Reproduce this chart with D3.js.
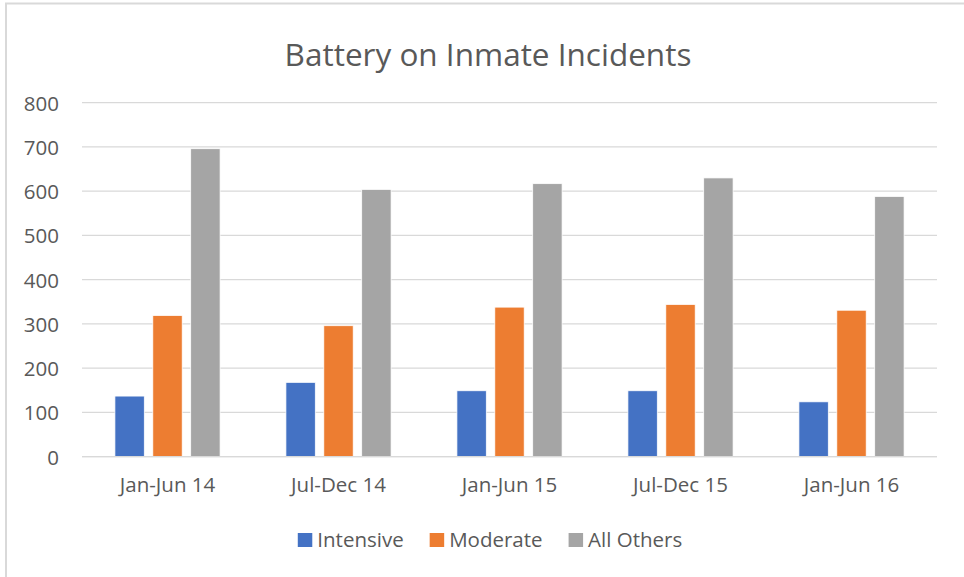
<!DOCTYPE html>
<html>
<head>
<meta charset="utf-8">
<script src="https://cdn.jsdelivr.net/npm/d3@7"></script>
<style>
  html, body { margin: 0; padding: 0; background: #fff; }
  svg { display: block; }
  text { font-family: "Open Sans", Lato, sans-serif; fill: #595959; }
</style>
</head>
<body>
<svg id="chart" width="964" height="577"></svg>
<script>
// Half-year periods on the x axis
const categories = ["Jan-Jun 14", "Jul-Dec 14", "Jan-Jun 15", "Jul-Dec 15", "Jan-Jun 16"];
// Series names and their counts per period
const seriesNames = ["Intensive", "Moderate", "All Others"];
const intensive = [137, 168, 149, 149, 124];
const moderate  = [319, 296, 338, 344, 331];
const allOthers = [696, 604, 617, 630, 588];
const seriesColors = ["#4472C4", "#ED7D31", "#A5A5A5"];
const yTicks = [0, 100, 200, 300, 400, 500, 600, 700, 800];
const chartTitle = "Battery on Inmate Incidents";

const seriesValues = [intensive, moderate, allOthers];

const W = 964, H = 577;
const margin = { left: 82, right: 27, top: 102.7, bottom: 120.3 };
const FONT = "'Open Sans', Lato, sans-serif";
const LABEL_SIZE = "20.5px";
const svg = d3.select("#chart");

// outer chart frame
svg.append("rect")
  .attr("x", 6).attr("y", 3.5)
  .attr("width", W + 10).attr("height", H + 10)
  .attr("fill", "#fff").attr("stroke", "#D9D9D9").attr("stroke-width", 2);

const x0 = d3.scaleBand()
  .domain(categories)
  .range([margin.left, W - margin.right])
  .paddingInner(0.385).paddingOuter(0.1925);

const x1 = d3.scaleBand()
  .domain(seriesNames)
  .range([0, x0.bandwidth()])
  .paddingInner(0.225);

const y = d3.scaleLinear()
  .domain([0, 800])
  .range([H - margin.bottom, margin.top]);

// gridlines
svg.append("g")
  .selectAll("line")
  .data(yTicks)
  .join("line")
  .attr("x1", margin.left).attr("x2", W - margin.right)
  .attr("y1", d => y(d)).attr("y2", d => y(d))
  .attr("stroke", "#D9D9D9").attr("stroke-width", 1.3);

// y axis labels
const yAxis = d3.axisLeft(y).tickValues(yTicks).tickSize(0).tickPadding(23);
const gy = svg.append("g").attr("transform", `translate(${margin.left},0)`).call(yAxis);
gy.select(".domain").remove();
gy.selectAll("text")
  .style("font-family", FONT)
  .style("font-size", LABEL_SIZE).attr("fill", "#595959").attr("dy", "0.36em");

// bars
const groups = svg.append("g")
  .selectAll("g")
  .data(categories)
  .join("g")
  .attr("transform", d => `translate(${x0(d)},0)`);

groups.selectAll("rect")
  .data((c, i) => seriesNames.map((s, k) => ({ s, k, v: seriesValues[k][i] })))
  .join("rect")
  .attr("x", d => x1(d.s))
  .attr("width", x1.bandwidth())
  .attr("y", d => y(d.v))
  .attr("height", d => y(0) - y(d.v))
  .attr("fill", d => seriesColors[d.k])
  .attr("stroke", "#fff").attr("stroke-width", 0.75);

// baseline
svg.append("line")
  .attr("x1", margin.left).attr("x2", W - margin.right)
  .attr("y1", y(0)).attr("y2", y(0))
  .attr("stroke", "#D9D9D9").attr("stroke-width", 1.3);

// x axis labels
const xAxis = d3.axisBottom(x0).tickSize(0).tickPadding(21);
const gx = svg.append("g").attr("transform", `translate(0,${y(0)})`).call(xAxis);
gx.select(".domain").remove();
gx.selectAll("text")
  .style("font-family", FONT)
  .style("font-size", LABEL_SIZE).attr("fill", "#595959");

// title
svg.append("text")
  .attr("x", 488)
  .attr("y", 66)
  .attr("text-anchor", "middle")
  .style("font-size", "31.5px")
  .text(chartTitle);

// legend, centered below the plot
const legend = svg.append("g");
let cx = 0;
seriesNames.forEach((name, k) => {
  const item = legend.append("g").attr("transform", `translate(${cx},0)`);
  item.append("rect").attr("x", 0).attr("y", -14).attr("width", 14.5).attr("height", 14)
    .attr("fill", seriesColors[k]);
  const t = item.append("text").attr("x", 19.5).attr("y", 0)
    .style("font-size", LABEL_SIZE).text(name);
  cx += 19.5 + t.node().getComputedTextLength() + 26;
});
const legendWidth = cx - 26;
legend.attr("transform", `translate(${490 - legendWidth / 2},547)`);
</script>
</body>
</html>
